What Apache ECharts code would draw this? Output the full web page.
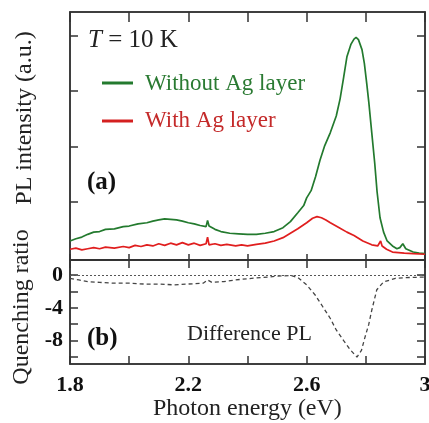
<!DOCTYPE html>
<html>
<head>
<meta charset="utf-8">
<script src="https://cdn.jsdelivr.net/npm/echarts@6/dist/echarts.min.js"></script>
<style>
  html, body { margin: 0; padding: 0; background: #fff; }
  #main { width: 429px; height: 423px; }
</style>
</head>
<body>
<div id="main"></div>
<script>
// 数据：光子能量 (eV) 与 PL 强度
var withoutAg = [
  [1.80,0.29],[1.82,0.33],[1.84,0.36],[1.86,0.41],[1.88,0.45],[1.90,0.46],[1.92,0.50],[1.95,0.51],
  [1.98,0.55],[2.00,0.56],[2.03,0.60],[2.06,0.62],[2.08,0.65],[2.10,0.67],[2.12,0.69],[2.14,0.68],
  [2.16,0.67],[2.18,0.65],[2.20,0.62],[2.22,0.60],[2.24,0.57],[2.26,0.55],[2.265,0.66],[2.27,0.56],
  [2.29,0.50],[2.31,0.46],[2.34,0.43],[2.37,0.42],[2.40,0.41],[2.43,0.41],[2.46,0.43],[2.49,0.46],
  [2.52,0.53],[2.545,0.64],[2.57,0.80],[2.59,0.93],[2.60,1.07],[2.615,1.20],[2.63,1.45],[2.645,1.75],
  [2.66,2.00],[2.68,2.25],[2.70,2.55],[2.713,2.86],[2.725,3.25],[2.736,3.62],[2.75,3.85],[2.76,3.94],
  [2.767,3.97],[2.775,3.93],[2.787,3.75],[2.795,3.50],[2.803,3.14],[2.81,2.80],[2.82,2.25],[2.83,1.70],
  [2.838,1.18],[2.848,0.71],[2.86,0.45],[2.872,0.29],[2.89,0.20],[2.905,0.15],[2.915,0.17],[2.925,0.24],
  [2.935,0.15],[2.96,0.09],[2.98,0.07],[3.00,0.06]
];
var withAg = [
  [1.80,0.14],[1.82,0.16],[1.84,0.13],[1.86,0.15],[1.88,0.17],[1.90,0.15],[1.92,0.18],[1.95,0.16],
  [1.98,0.19],[2.00,0.17],[2.02,0.21],[2.04,0.19],[2.06,0.22],[2.08,0.20],[2.10,0.24],[2.12,0.21],
  [2.14,0.25],[2.16,0.22],[2.18,0.26],[2.20,0.22],[2.22,0.25],[2.24,0.21],[2.26,0.24],[2.265,0.36],
  [2.27,0.22],[2.29,0.24],[2.31,0.21],[2.33,0.23],[2.36,0.20],[2.38,0.22],[2.40,0.20],[2.43,0.23],
  [2.46,0.25],[2.49,0.29],[2.52,0.35],[2.545,0.43],[2.57,0.51],[2.60,0.62],[2.62,0.70],[2.635,0.73],
  [2.65,0.71],[2.665,0.67],[2.68,0.62],[2.71,0.53],[2.736,0.45],[2.76,0.39],[2.79,0.29],[2.82,0.22],
  [2.84,0.20],[2.85,0.29],[2.855,0.20],[2.87,0.14],[2.89,0.09],[2.93,0.07],[2.96,0.06],[3.00,0.05]
];
// 差分 PL（下图）
var diffPL = [
  [1.80,-0.4],[1.83,-0.6],[1.86,-0.8],[1.90,-0.9],[1.95,-1.0],[2.00,-1.0],[2.05,-1.1],[2.10,-1.1],
  [2.15,-1.2],[2.20,-1.1],[2.25,-1.0],[2.265,-0.6],[2.28,-0.9],[2.32,-0.8],[2.36,-0.6],[2.40,-0.45],
  [2.45,-0.3],[2.50,-0.15],[2.545,-0.05],[2.57,-0.3],[2.60,-1.2],[2.63,-2.5],[2.655,-3.9],[2.68,-5.3],
  [2.70,-6.7],[2.725,-8.0],[2.747,-9.1],[2.77,-10.0],[2.785,-9.2],[2.797,-7.6],[2.81,-6.0],[2.82,-4.3],
  [2.837,-1.8],[2.86,-0.85],[2.90,-0.4],[2.95,-0.3],[3.00,-0.25]
];
var xTicks = [1.8, 2.0, 2.2, 2.4, 2.6, 2.8, 3.0];
var xLabels = [1.8, 2.2, 2.6, 3.0];
var topTicks = [1, 2, 3, 4];
var bottomTicks = [0, -2, -4, -6, -8, -10];
var bottomLabels = [0, -4, -8];

var FONT = "'Liberation Serif', 'Times New Roman', serif";
var AX = '#333';

var chart = echarts.init(document.getElementById('main'));

function xAx(grid, pos, showLabel, len) {
  return {
    type: 'value', gridIndex: grid, position: pos, min: 1.8, max: 3.0,
    axisLine: { show: true, onZero: false, lineStyle: { color: AX, width: 1.5 } },
    axisTick: { show: true, inside: true, length: len, customValues: xTicks, lineStyle: { color: AX, width: 1.5 } },
    axisLabel: showLabel ? {
      customValues: xLabels, margin: 10, color: '#111', fontFamily: FONT, fontSize: 22, fontWeight: 'bold',
      formatter: function (v) { return String(+v.toFixed(1)); }
    } : { show: false },
    splitLine: { show: false }
  };
}
function yAx(grid, pos, min, max, ticks, labels, name, pad) {
  var a = {
    type: 'value', gridIndex: grid, position: pos, min: min, max: max,
    axisLine: { show: true, onZero: false, lineStyle: { color: AX, width: 1.5 } },
    axisTick: { show: true, inside: true, length: 8, customValues: ticks, lineStyle: { color: AX, width: 1.5 } },
    axisLabel: labels ? {
      customValues: labels, margin: 7, color: '#111', fontFamily: FONT, fontSize: 22, fontWeight: 'bold'
    } : { show: false },
    splitLine: { show: false }
  };
  if (name) {
    a.name = name;
    a.nameLocation = 'middle';
    a.nameRotate = 90;
    a.nameGap = 33;
    a.nameTextStyle = { fontFamily: FONT, fontSize: 24, color: '#222', padding: [0, 0, 0, pad] };
  }
  return a;
}
function txt(text, left, top, size, color, bold) {
  return {
    text: text, left: left, top: top, padding: 0,
    textStyle: { fontFamily: FONT, fontSize: size, color: color, fontWeight: bold ? 'bold' : 'normal' }
  };
}

var tTitle = txt('{i|T} = 10 K', 88, 28, 25, '#222', false);
tTitle.textStyle.rich = { i: { fontStyle: 'italic', fontFamily: FONT, fontSize: 25, color: '#222' } };

var chartOption = {
  backgroundColor: '#fff',
  animation: false,
  title: [
    tTitle,
    txt('Without Ag layer', 145, 72, 23, '#2a7a32', false),
    txt('With Ag layer', 145, 109, 23, '#c42a2a', false),
    txt('(a)', 87, 170, 25, '#111', true),
    txt('(b)', 87, 326, 25, '#111', true),
    txt('Difference PL', 187, 323, 22, '#222', false),
    txt('Photon energy (eV)', 153, 397, 24, '#222', false)
  ],
  // 外框用 grid 边框画，避免副轴不显示
  grid: [
    { left: 70, right: 4, top: 12, height: 248, outerBoundsMode: 'none',
      show: true, borderColor: AX, borderWidth: 1.5, backgroundColor: 'transparent' },
    { left: 70, right: 4, top: 260, height: 104, outerBoundsMode: 'none',
      show: true, borderColor: AX, borderWidth: 1.5, backgroundColor: 'transparent' }
  ],
  xAxis: [
    xAx(0, 'bottom', false, 6),
    xAx(0, 'top', false, 10),
    xAx(1, 'bottom', true, 8),
    xAx(1, 'top', false, 8)
  ],
  yAxis: [
    yAx(0, 'left', -0.054, 4.43, topTicks, null, 'PL intensity (a.u.)', 36),
    yAx(0, 'right', -0.054, 4.43, topTicks, null),
    yAx(1, 'left', -10.85, 1.83, bottomTicks, bottomLabels, 'Quenching ratio', 10),
    yAx(1, 'right', -10.85, 1.83, bottomTicks, null)
  ],
  series: [
    {
      type: 'line', xAxisIndex: 0, yAxisIndex: 0, data: withoutAg,
      showSymbol: false, lineStyle: { color: '#237a2e', width: 1.7 }
    },
    {
      type: 'line', xAxisIndex: 0, yAxisIndex: 0, data: withAg,
      showSymbol: false, lineStyle: { color: '#e01e1e', width: 1.7 }
    },
    {
      type: 'line', xAxisIndex: 2, yAxisIndex: 2, data: diffPL,
      showSymbol: false, lineStyle: { color: '#444', width: 1.3, type: [4, 3] },
      markLine: {
        silent: true, symbol: 'none', label: { show: false },
        lineStyle: { color: '#555', width: 1, type: [2, 2] },
        data: [{ yAxis: 0 }]
      }
    }
  ],
  graphic: [
    { type: 'line', shape: { x1: 102, y1: 83, x2: 133, y2: 83 }, style: { stroke: '#237a2e', lineWidth: 3 } },
    { type: 'line', shape: { x1: 102, y1: 121, x2: 133, y2: 121 }, style: { stroke: '#d42020', lineWidth: 3 } }
  ]
};
chart.setOption(chartOption);
</script>
</body>
</html>
